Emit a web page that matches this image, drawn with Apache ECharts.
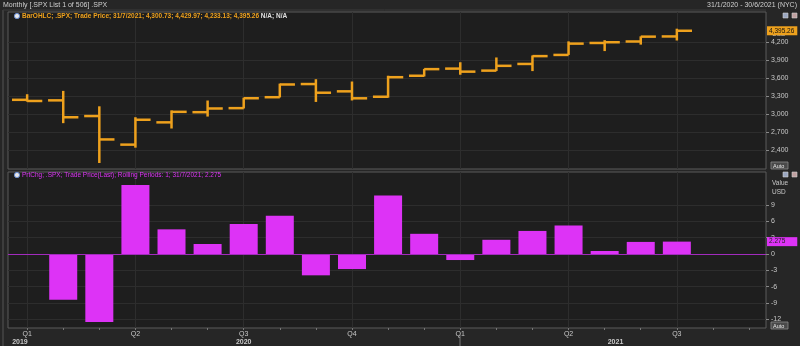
<!DOCTYPE html>
<html><head><meta charset="utf-8">
<script src="https://cdn.jsdelivr.net/npm/echarts@6/dist/echarts.min.js"></script>
<style>html,body{margin:0;padding:0;background:#262626;}#c{width:800px;height:346px;}</style>
</head><body><div id="c"></div>
<script>
const months = ['Jan 2020','Feb 2020','Mar 2020','Apr 2020','May 2020','Jun 2020','Jul 2020','Aug 2020','Sep 2020','Oct 2020','Nov 2020','Dec 2020','Jan 2021','Feb 2021','Mar 2021','Apr 2021','May 2021','Jun 2021','Jul 2021'];
const openV  = [3244.67,3235.66,2974.28,2498.08,2869.09,3038.78,3105.92,3288.26,3507.44,3385.87,3296.20,3645.87,3764.61,3731.17,3842.51,3992.78,4191.98,4216.52,4300.73];
const highV  = [3337.77,3393.52,3136.72,2954.86,3068.67,3233.13,3279.99,3514.77,3588.11,3549.85,3645.99,3760.20,3870.90,3950.43,3983.87,4218.78,4238.04,4302.43,4429.97];
const lowV   = [3214.64,2855.84,2191.86,2447.49,2766.64,2965.66,3101.17,3284.53,3209.45,3233.94,3279.74,3633.40,3662.71,3725.62,3723.34,3992.78,4056.88,4164.40,4233.13];
const closeV = [3225.52,2954.22,2584.59,2912.43,3044.31,3100.29,3271.12,3500.31,3363.00,3269.96,3621.63,3756.07,3714.24,3811.15,3972.89,4181.17,4204.11,4297.50,4395.26];
const pctChange = [-0.16,-8.41,-12.51,12.68,4.53,1.84,5.51,7.01,-3.92,-2.77,10.75,3.71,-1.11,2.61,4.24,5.24,0.55,2.22,2.275];
const quarterPos = [0,3,6,9,12,15,18];
const quarterLabels = ['Q1','Q2','Q3','Q4','Q1','Q2','Q3'];
const monthTickPos = [0,1,2,3,4,5,6,7,8,9,10,11,12,13,14,15,16,17,18,19,20];
const yearPos = [-0.2,6,16.3];
const yearLabels = ['2019','2020','2021'];
const priceTicks = [2400,2700,3000,3300,3600,3900,4200];
const pctTicks = [-12,-9,-6,-3,0,3,6,9];
const lastClose = 4395.26;
const lastPct = 2.275;

const ohlcData = months.map((m,i)=>[i, openV[i], highV[i], lowV[i], closeV[i]]);
const barData = months.map((m,i)=>[i, pctChange[i]]);

const FONT = 'Liberation Sans';
const ORANGE = '#eea11d';
const MAGENTA = '#dd33f6';
const GRIDC = '#2d2d2d';
const NONE = 'rgba(0,0,0,0)';

function renderOHLC(params, api){
  const x = api.value(0);
  const pO = api.coord([x, api.value(1)]);
  const pH = api.coord([x, api.value(2)]);
  const pL = api.coord([x, api.value(3)]);
  const pC = api.coord([x, api.value(4)]);
  const half = api.size([1,0])[0]*0.42;
  const style = {stroke: ORANGE, lineWidth: 2.5};
  return {type:'group', children:[
    {type:'line', shape:{x1:pH[0],y1:pH[1],x2:pL[0],y2:pL[1]}, style},
    {type:'line', shape:{x1:pO[0]-half,y1:pO[1],x2:pO[0],y2:pO[1]}, style},
    {type:'line', shape:{x1:pC[0],y1:pC[1],x2:pC[0]+half,y2:pC[1]}, style}
  ]};
}

function gridLines(yTicks){
  return quarterPos.map(q=>({xAxis:q})).concat(yTicks.map(v=>({yAxis:v})));
}

const xMin = -0.53, xMax = 20.47;
const axisTxt = {color:'#c8c8c8', fontSize:7, fontFamily:FONT};
const noLine = {show:false, onZero:false};

const chart = echarts.init(document.getElementById('c'), null, {renderer:'canvas'});
chart.setOption({
  backgroundColor:'#262626',
  animation:false,
  title:[
    {text:'Monthly [.SPX List 1 of 506] .SPX', left:3, top:2, padding:0, textStyle:{color:'#cfcfcf', fontSize:7, fontWeight:'normal', fontFamily:FONT}},
    {text:'31/1/2020 - 30/6/2021 (NYC)', right:3, top:2, padding:0, textStyle:{color:'#cfcfcf', fontSize:7, fontWeight:'normal', fontFamily:FONT}},
    {text:'{o|BarOHLC; .SPX; Trade Price; 31/7/2021; 4,300.73; 4,429.97; 4,233.13; 4,395.26}{w| N/A; N/A}', left:22, top:13, padding:0,
      textStyle:{fontSize:6.5, fontFamily:FONT, rich:{o:{color:ORANGE, fontSize:6.5, fontFamily:FONT}, w:{color:'#e0e0e0', fontSize:6.5, fontFamily:FONT}}}},
    {text:'PrtChg; .SPX; Trade Price(Last); Rolling Periods: 1; 31/7/2021; 2.275', left:22, top:172, padding:0,
      textStyle:{color:MAGENTA, fontSize:6.5, fontWeight:'normal', fontFamily:FONT}}
  ],
  grid:[
    {left:8, right:34, top:12, height:157, show:true, backgroundColor:'#1e1e1e', borderColor:'#5a5a5a', borderWidth:1},
    {left:8, right:34, top:172, height:156, show:true, backgroundColor:'#1e1e1e', borderColor:'#5a5a5a', borderWidth:1}
  ],
  xAxis:[
    {type:'value', gridIndex:0, min:xMin, max:xMax, axisLine:noLine,
      axisTick:{show:false}, axisLabel:{show:false}, splitLine:{show:false}},
    {type:'value', gridIndex:1, min:xMin, max:xMax, position:'bottom', axisLine:noLine,
      axisTick:{show:true, customValues:monthTickPos, length:2, lineStyle:{color:'#777'}},
      axisLabel:{show:true, customValues:quarterPos, margin:3, ...axisTxt,
        formatter:(v)=>{const k = quarterPos.indexOf(Math.round(v)); return k>=0?quarterLabels[k]:'';}},
      splitLine:{show:false}},
    {type:'value', gridIndex:1, min:xMin, max:xMax, position:'bottom', axisLine:noLine,
      axisTick:{show:false, customValues:yearPos},
      axisLabel:{show:true, customValues:yearPos, margin:11, ...axisTxt, fontWeight:'bold',
        formatter:(v)=>{let best=0; yearPos.forEach((p,k)=>{if(Math.abs(p-v)<Math.abs(yearPos[best]-v)) best=k;}); return yearLabels[best];}},
      splitLine:{show:false}}
  ],
  yAxis:[
    {type:'value', gridIndex:0, position:'right', min:2092, max:4708, axisLine:noLine,
      axisTick:{show:true, customValues:priceTicks, length:3, lineStyle:{color:'#888'}},
      axisLabel:{show:true, customValues:priceTicks, margin:5, ...axisTxt,
        formatter:(v)=>Number(v).toLocaleString('en-US')},
      splitLine:{show:false}},
    {type:'value', gridIndex:1, position:'right', min:-13.6, max:15.07, axisLine:noLine,
      axisTick:{show:true, customValues:pctTicks, length:3, lineStyle:{color:'#888'}},
      axisLabel:{show:true, customValues:pctTicks, margin:5, ...axisTxt},
      splitLine:{show:false}}
  ],
  series:[
    {type:'line', xAxisIndex:0, yAxisIndex:0, data:[], silent:true,
      markLine:{silent:true, symbol:'none', z:1, label:{show:false}, lineStyle:{color:GRIDC, width:1, type:'solid'}, data:gridLines(priceTicks)}},
    {type:'line', xAxisIndex:1, yAxisIndex:1, data:[], silent:true,
      markLine:{silent:true, symbol:'none', z:1, label:{show:false}, lineStyle:{color:GRIDC, width:1, type:'solid'}, data:gridLines(pctTicks)}},
    {type:'custom', xAxisIndex:0, yAxisIndex:0, renderItem:renderOHLC, data:ohlcData, z:3,
      encode:{x:0, y:[1,2,3,4]}, clip:true,
      markLine:{silent:true, symbol:'none', z:6, data:[{yAxis:lastClose, lineStyle:{color:NONE, width:0}}],
        label:{show:true, position:'end', distance:1, formatter:'4,395.26', color:'#111', backgroundColor:ORANGE,
          padding:[1,3,1,2], fontSize:6.5, fontFamily:FONT}}},
    {type:'bar', xAxisIndex:1, yAxisIndex:1, data:barData, barWidth:28, itemStyle:{color:MAGENTA}, z:3,
      markLine:{silent:true, symbol:'none', z:6, data:[
        {yAxis:0, lineStyle:{color:'#a22bbd', width:1, type:'solid'}, label:{show:false}},
        {yAxis:lastPct, lineStyle:{color:NONE, width:0}, label:{show:true, position:'end', distance:1, formatter:'2.275', color:'#222', backgroundColor:MAGENTA,
          padding:[1,12,1,2], fontSize:6.5, fontFamily:FONT}}]}}
  ],
  graphic:[
    {type:'line', shape:{x1:3,y1:10,x2:3,y2:346}, style:{stroke:'#555', lineWidth:1}},
    {type:'line', shape:{x1:3,y1:10,x2:766,y2:10}, style:{stroke:'#3a3a3a', lineWidth:1}},
    {type:'circle', shape:{cx:17, cy:16, r:2.6}, style:{fill:'#e6e6e6', stroke:'#6b8fd6', lineWidth:1}},
    {type:'circle', shape:{cx:17, cy:175, r:2.6}, style:{fill:'#e6e6e6', stroke:'#6b8fd6', lineWidth:1}},
    {type:'text', left:772, top:31, style:{text:'USD', fill:'#c8c8c8', fontSize:6.5, fontFamily:FONT}},
    {type:'text', left:772, top:180, style:{text:'Value', fill:'#c8c8c8', fontSize:6.5, fontFamily:FONT}},
    {type:'text', left:772, top:189, style:{text:'USD', fill:'#c8c8c8', fontSize:6.5, fontFamily:FONT}},
    {type:'rect', shape:{x:771, y:162, width:17, height:7}, style:{fill:'#4a4a4a', stroke:'#8a8a8a', lineWidth:0.8}},
    {type:'text', left:773, top:163, style:{text:'Auto', fill:'#e8e8e8', fontSize:5.5, fontFamily:FONT}},
    {type:'rect', shape:{x:771, y:322, width:17, height:7}, style:{fill:'#4a4a4a', stroke:'#8a8a8a', lineWidth:0.8}},
    {type:'text', left:773, top:323, style:{text:'Auto', fill:'#e8e8e8', fontSize:5.5, fontFamily:FONT}},
    {type:'rect', shape:{x:783, y:13, width:5, height:5}, style:{fill:'#9aa6c0', stroke:'#d0d0d0', lineWidth:0.6}},
    {type:'rect', shape:{x:792, y:13, width:5, height:5}, style:{fill:'#c0a0a0', stroke:'#d0d0d0', lineWidth:0.6}},
    {type:'rect', shape:{x:783, y:172, width:5, height:5}, style:{fill:'#9aa6c0', stroke:'#d0d0d0', lineWidth:0.6}},
    {type:'rect', shape:{x:792, y:172, width:5, height:5}, style:{fill:'#c0a0a0', stroke:'#d0d0d0', lineWidth:0.6}},
    {type:'line', shape:{x1:460,y1:335,x2:460,y2:346}, style:{stroke:'#777', lineWidth:1}}
  ]
});
</script></body></html>
